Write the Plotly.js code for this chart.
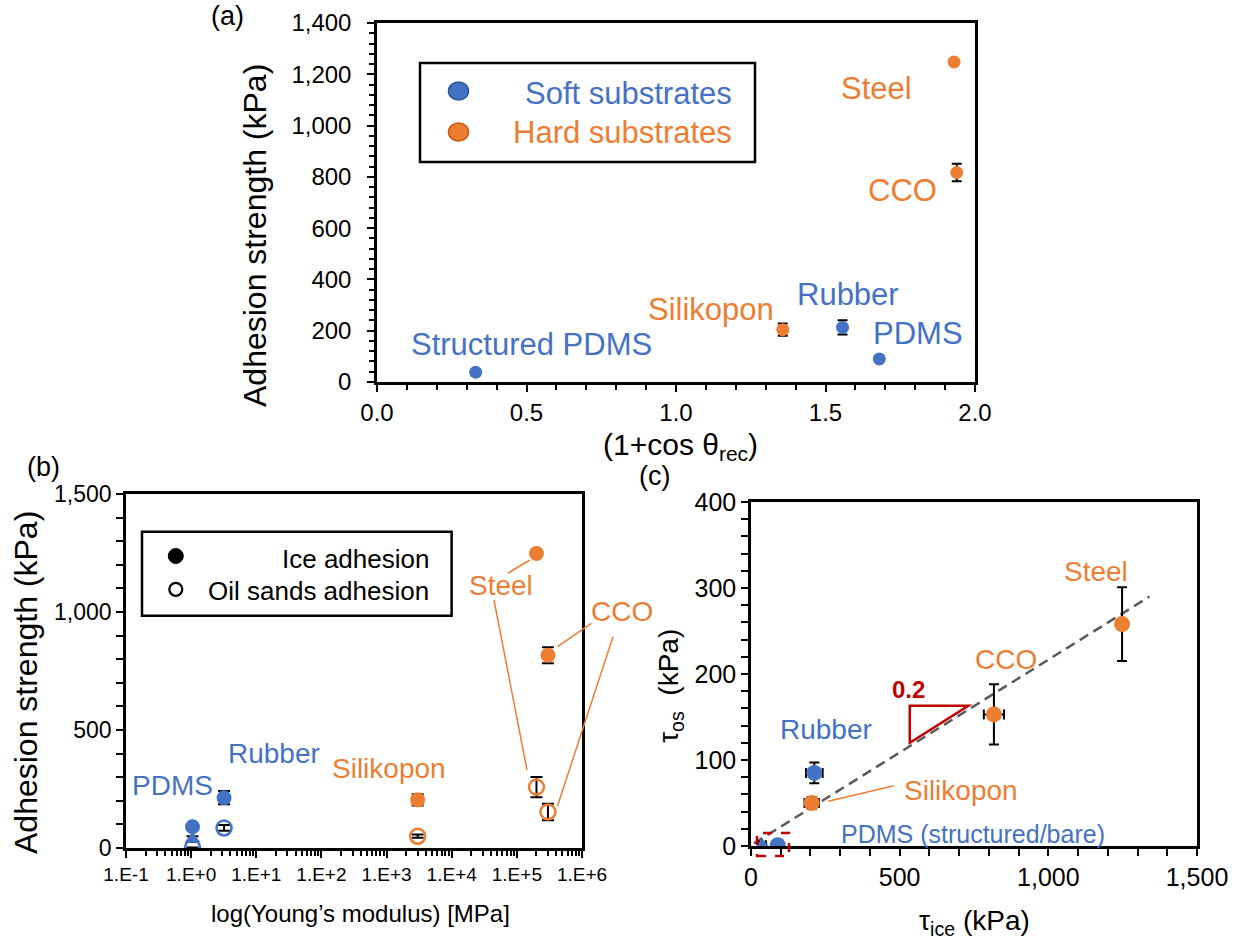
<!DOCTYPE html>
<html><head><meta charset="utf-8">
<script src="https://cdn.plot.ly/plotly-3.0.1.min.js"></script>
<style>html,body{margin:0;padding:0;background:#fff}#chart{width:1245px;height:943px}</style>
</head><body><div id="chart"></div>
<script>
// ---------------- data ----------------
const materials     = ['Structured PDMS', 'PDMS', 'Rubber', 'Silikopon', 'CCO', 'Steel'];
const substrate     = ['soft', 'soft', 'soft', 'hard', 'hard', 'hard'];
const onePlusCos    = [0.33, 1.68, 1.557, 1.357, 1.939, 1.93];     // (1+cos θrec)
const iceAdhesion   = [38, 90, 213, 204, 817, 1248];               // kPa
const iceError      = [12, 4, 28, 24, 34, 0];
const youngsModulus = [1.05, 1.05, 3.2, 3000, 300000, 200000];     // MPa
const oilAdhesion   = [1, 1, 85, 50, 153, 258];                    // kPa
const oilError      = [1, 1, 12, 7, 35, 43];
const trendIce      = [10, 1340];
const trendOil      = [3, 290];
const logTickVals   = [0.1, 1, 10, 100, 1000, 10000, 100000, 1000000];
const logTickText   = ['1.E-1', '1.E+0', '1.E+1', '1.E+2', '1.E+3', '1.E+4', '1.E+5', '1.E+6'];

// ---------------- helpers ----------------
const BLUE = '#4472C4', ORANGE = '#ED7D31', RED = '#C00000';
const FONT = 'Liberation Sans, Arial, sans-serif';
const W = 1245, H = 943;
const P = x => x / W, Q = y => 1 - y / H;
const pick = (arr, idx) => idx.map(i => arr[i]);
const idxWhere = f => materials.map((m, i) => i).filter(f);
const softIdx = idxWhere(i => substrate[i] === 'soft');
const hardIdx = idxWhere(i => substrate[i] === 'hard');
const softCircIdx = idxWhere(i => substrate[i] === 'soft' && materials[i] !== 'Structured PDMS');
const structIdx = idxWhere(i => materials[i] === 'Structured PDMS');
const eb = (arr, idx, w) => ({type: 'data', array: pick(arr, idx), visible: true, color: 'black', thickness: 2, width: w});

const traces = [];
// ---- panel (a)
traces.push({type: 'scatter', mode: 'markers', xaxis: 'x', yaxis: 'y', name: 'Soft substrates',
  x: pick(onePlusCos, softIdx), y: pick(iceAdhesion, softIdx), error_y: eb(iceError, softIdx, 5),
  marker: {color: BLUE, size: 13}, hoverinfo: 'skip'});
traces.push({type: 'scatter', mode: 'markers', xaxis: 'x', yaxis: 'y', name: 'Hard substrates',
  x: pick(onePlusCos, hardIdx), y: pick(iceAdhesion, hardIdx), error_y: eb(iceError, hardIdx, 5),
  marker: {color: ORANGE, size: 13}, hoverinfo: 'skip'});
// empty traces so that the minor-tick overlay axes of panel (a) are created
traces.push({type: 'scatter', mode: 'markers', xaxis: 'x', yaxis: 'y4', x: [], y: [], hoverinfo: 'skip', showlegend: false});
traces.push({type: 'scatter', mode: 'markers', xaxis: 'x5', yaxis: 'y', x: [], y: [], hoverinfo: 'skip', showlegend: false});
// ---- panel (b)
traces.push({type: 'scatter', mode: 'markers', xaxis: 'x2', yaxis: 'y2', name: 'Structured PDMS ice',
  x: pick(youngsModulus, structIdx), y: pick(iceAdhesion, structIdx), error_y: eb(iceError, structIdx, 6),
  marker: {color: BLUE, size: 14, symbol: 'triangle-up'}, hoverinfo: 'skip'});
traces.push({type: 'scatter', mode: 'markers', xaxis: 'x2', yaxis: 'y2', name: 'Ice adhesion (soft)',
  x: pick(youngsModulus, softCircIdx), y: pick(iceAdhesion, softCircIdx), error_y: eb(iceError, softCircIdx, 6),
  marker: {color: BLUE, size: 15}, hoverinfo: 'skip'});
traces.push({type: 'scatter', mode: 'markers', xaxis: 'x2', yaxis: 'y2', name: 'Ice adhesion (hard)',
  x: pick(youngsModulus, hardIdx), y: pick(iceAdhesion, hardIdx), error_y: eb(iceError, hardIdx, 6),
  marker: {color: ORANGE, size: 15}, hoverinfo: 'skip'});
traces.push({type: 'scatter', mode: 'markers', xaxis: 'x2', yaxis: 'y2', name: 'Oil sands adhesion (soft)',
  x: pick(youngsModulus, softCircIdx), y: pick(oilAdhesion, softCircIdx), error_y: eb(oilError, softCircIdx, 6),
  marker: {color: BLUE, size: 15, symbol: 'circle-open', line: {width: 2.5}}, hoverinfo: 'skip'});
traces.push({type: 'scatter', mode: 'markers', xaxis: 'x2', yaxis: 'y2', name: 'Oil sands adhesion (hard)',
  x: pick(youngsModulus, hardIdx), y: pick(oilAdhesion, hardIdx), error_y: eb(oilError, hardIdx, 6),
  marker: {color: ORANGE, size: 15, symbol: 'circle-open', line: {width: 2.5}}, hoverinfo: 'skip'});
// ---- panel (c)
traces.push({type: 'scatter', mode: 'lines', xaxis: 'x3', yaxis: 'y3', name: 'Linear fit',
  x: trendIce, y: trendOil, line: {color: '#595959', width: 2.5, dash: '10px,6px'}, hoverinfo: 'skip'});
traces.push({type: 'scatter', mode: 'markers', xaxis: 'x3', yaxis: 'y3', name: 'Structured PDMS',
  x: pick(iceAdhesion, structIdx), y: pick(oilAdhesion, structIdx),
  error_x: eb(iceError, structIdx, 5), error_y: eb(oilError, structIdx, 5),
  marker: {color: BLUE, size: 14, symbol: 'triangle-up'}, hoverinfo: 'skip'});
traces.push({type: 'scatter', mode: 'markers', xaxis: 'x3', yaxis: 'y3', name: 'Soft',
  x: pick(iceAdhesion, softCircIdx), y: pick(oilAdhesion, softCircIdx),
  error_x: eb(iceError, softCircIdx, 5), error_y: eb(oilError, softCircIdx, 5),
  marker: {color: BLUE, size: 16}, hoverinfo: 'skip'});
traces.push({type: 'scatter', mode: 'markers', xaxis: 'x3', yaxis: 'y3', name: 'Hard',
  x: pick(iceAdhesion, hardIdx), y: pick(oilAdhesion, hardIdx),
  error_x: eb(iceError, hardIdx, 5), error_y: eb(oilError, hardIdx, 5),
  marker: {color: ORANGE, size: 16}, hoverinfo: 'skip'});

// ---------------- axes ----------------
const MINOR = {ticks: 'outside', ticklen: 7, tickwidth: 2, tickcolor: '#000000', showgrid: false};
function axis(o) {
  return Object.assign({
    showline: true, linecolor: '#000000', linewidth: 2.5, mirror: true,
    showgrid: false, zeroline: false, ticks: 'outside', ticklen: 7, tickwidth: 2, tickcolor: '#000000',
    tickfont: {family: FONT, size: 24, color: 'black'}
  }, o);
}
const tickOverlay = o => Object.assign({ticks: 'outside', ticklen: 7, tickwidth: 2, tickcolor: '#000000',
  showticklabels: false, showline: false, showgrid: false, zeroline: false}, o);
const layout = {
  width: W, height: H, margin: {l: 0, r: 0, t: 0, b: 0},
  paper_bgcolor: 'white', plot_bgcolor: 'white', showlegend: false,
  font: {family: FONT, color: 'black'},
  xaxis: axis({domain: [P(377), P(975)], anchor: 'y', range: [0, 2], dtick: 0.5, tick0: 0, tickformat: '.1f'}),
  yaxis: axis({domain: [Q(382), Q(23)], anchor: 'x', range: [0, 1400], dtick: 200, tick0: 0, tickformat: ',.0f',
    ticklabelstandoff: 11}),
  // overlay axes carrying the minor ticks of panel (a)
  xaxis5: tickOverlay({overlaying: 'x', anchor: 'y', side: 'bottom', range: [0, 2], dtick: 0.1, tick0: 0}),
  yaxis4: tickOverlay({overlaying: 'y', anchor: 'x', side: 'left', range: [0, 1400], dtick: 40, tick0: 0}),
  xaxis2: axis({domain: [P(126), P(582)], anchor: 'y2', type: 'log', range: [-1, 6],
    tickmode: 'array', tickvals: logTickVals, ticktext: logTickText,
    tickfont: {family: FONT, size: 19, color: 'black'},
    minor: Object.assign({dtick: 'D1'}, MINOR, {ticklen: 5})}),
  yaxis2: axis({domain: [Q(848), Q(494)], anchor: 'x2', range: [0, 1500], dtick: 500, tick0: 0, tickformat: ',.0f',
    tickfont: {family: FONT, size: 23, color: 'black'},
    minor: Object.assign({dtick: 100}, MINOR)}),
  xaxis3: axis({domain: [P(751), P(1197)], anchor: 'y3', range: [0, 1500], dtick: 500, tick0: 0, tickformat: ',.0f',
    tickfont: {family: FONT, size: 25, color: 'black'},
    minor: Object.assign({dtick: 100}, MINOR)}),
  yaxis3: axis({domain: [Q(846), Q(502)], anchor: 'x3', range: [0, 400], dtick: 100, tick0: 0, tickformat: ',.0f',
    tickfont: {family: FONT, size: 25, color: 'black'},
    minor: Object.assign({dtick: 20}, MINOR)})
};

// ---------------- text ----------------
const ann = [];
function T(xref, yref, x, y, text, size, color, extra) {
  ann.push(Object.assign({xref, yref, x, y, text, showarrow: false, xanchor: 'center', yanchor: 'middle',
    font: {family: FONT, size, color}}, extra || {}));
}
const pp = (x, y, text, size, extra) => T('paper', 'paper', P(x), Q(y), text, size, 'black', extra);
// panel tags and axis titles
pp(227, 16, '(a)', 27); pp(44, 467, '(b)', 27); pp(654, 476, '(c)', 27);
pp(255, 236, 'Adhesion strength (kPa)', 32, {textangle: -90});
pp(680, 446, '(1+cos θ<sub>rec</sub>)', 30);
pp(26, 683, 'Adhesion strength (kPa)', 32, {textangle: -90});
pp(360, 913, 'log(Young’s modulus) [MPa]', 24);
pp(670, 686, 'τ<sub>os</sub>  (kPa)', 28, {textangle: -90});
pp(974, 922, 'τ<sub>ice</sub> (kPa)', 28);
// panel (a) point labels
T('x', 'y', 1.669, 1143, 'Steel', 31, ORANGE);
T('x', 'y', 1.759, 745, 'CCO', 31, ORANGE);
T('x', 'y', 1.117, 281, 'Silikopon', 31, ORANGE);
T('x', 'y', 1.575, 343, 'Rubber', 31, BLUE);
T('x', 'y', 1.808, 191, 'PDMS', 31, BLUE);
T('x', 'y', 0.517, 148, 'Structured PDMS', 31, BLUE);
// panel (a) legend
T('paper', 'paper', P(734), Q(94), 'Soft substrates', 31, BLUE, {xanchor: 'right'});
T('paper', 'paper', P(734), Q(132.5), 'Hard substrates', 31, ORANGE, {xanchor: 'right'});
// panel (b) labels (x in log10 units)
T('x2', 'y2', -0.283, 265, 'PDMS', 28, BLUE);
T('x2', 'y2', 1.269, 401, 'Rubber', 28, BLUE);
T('x2', 'y2', 3.030, 338, 'Silikopon', 28, ORANGE);
T('x2', 'y2', 4.751, 1114, 'Steel', 28, ORANGE);
T('paper', 'paper', P(621.5), Q(611.7), 'CCO', 28, ORANGE);
// panel (b) legend
T('paper', 'paper', P(430.6), Q(559), 'Ice adhesion', 26, 'black', {xanchor: 'right'});
T('paper', 'paper', P(430.6), Q(591), 'Oil sands adhesion', 26, 'black', {xanchor: 'right'});
// panel (c) labels
T('x3', 'y3', 1160, 319, 'Steel', 28, ORANGE);
T('x3', 'y3', 858, 217, 'CCO', 28, ORANGE);
T('x3', 'y3', 253, 135, 'Rubber', 28, BLUE);
T('x3', 'y3', 706, 65, 'Silikopon', 28, ORANGE);
T('x3', 'y3', 746, 14, 'PDMS (structured/bare)', 25, BLUE);
T('x3', 'y3', 529, 182, '<b>0.2</b>', 24, RED);
layout.annotations = ann;

// ---------------- shapes ----------------
const shapes = [];
const pline = (x0, y0, x1, y1, color, width) => shapes.push({type: 'line', xref: 'paper', yref: 'paper',
  x0: P(x0), y0: Q(y0), x1: P(x1), y1: Q(y1), line: {color, width}});
const pcirc = (cx, cy, rx, ry, fill, lc, lw) => shapes.push({type: 'circle', xref: 'paper', yref: 'paper',
  xsizemode: 'pixel', ysizemode: 'pixel', xanchor: P(cx), yanchor: Q(cy), x0: -rx, x1: rx, y0: -ry, y1: ry,
  fillcolor: fill, line: {color: lc, width: lw}});
// legend (a)
shapes.push({type: 'rect', xref: 'paper', yref: 'paper', x0: P(420), x1: P(755), y0: Q(162), y1: Q(63),
  line: {color: 'black', width: 2.5}, fillcolor: 'rgba(0,0,0,0)'});
pcirc(458.5, 91, 10, 9, BLUE, '#2F5597', 1.5);
pcirc(458.5, 132, 10, 9, ORANGE, '#C55A11', 1.5);
// legend (b)
shapes.push({type: 'rect', xref: 'paper', yref: 'paper', x0: P(142), x1: P(451.6), y0: Q(615.7), y1: Q(531.7),
  line: {color: 'black', width: 2.5}, fillcolor: 'rgba(0,0,0,0)'});
pcirc(175.8, 556, 7.5, 7.5, 'black', 'black', 1);
pcirc(175.8, 589.3, 6.5, 6.5, 'white', 'black', 2.2);
// leader lines (b)
pline(507.9, 573.3, 529.8, 560, ORANGE, 1.5);
pline(494, 600, 527, 770, ORANGE, 1.5);
pline(591.3, 623.3, 557.5, 646.7, ORANGE, 1.5);
pline(613, 636.7, 557.5, 806, ORANGE, 1.5);
// panel (c) annotations
shapes.push({type: 'line', xref: 'x3', yref: 'y3', x0: 260, y0: 52, x1: 480, y1: 70, line: {color: ORANGE, width: 1.5}});
shapes.push({type: 'path', xref: 'x3', yref: 'y3', path: 'M534,163 L731,163 L534,120 Z', line: {color: RED, width: 2.5}});
shapes.push({type: 'rect', xref: 'paper', yref: 'paper', x0: P(757), x1: P(789), y0: Q(856), y1: Q(833),
  line: {color: RED, width: 2.5, dash: 'dash'}, fillcolor: 'rgba(0,0,0,0)'});
layout.shapes = shapes;

Plotly.newPlot('chart', traces, layout, {displayModeBar: false});
</script></body></html>
